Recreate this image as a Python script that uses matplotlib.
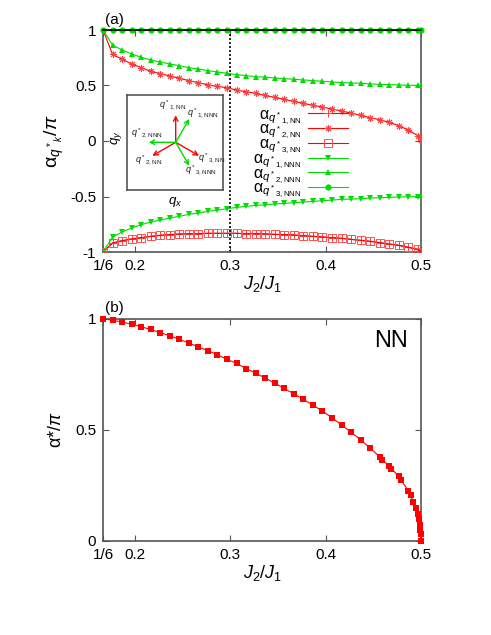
import numpy as np
import matplotlib
matplotlib.use("Agg")
import matplotlib.pyplot as plt

plt.rcParams['font.family'] = ['Liberation Sans', 'DejaVu Sans']
plt.rcParams['mathtext.fontset'] = 'custom'
plt.rcParams['mathtext.rm'] = 'Liberation Sans'
plt.rcParams['mathtext.it'] = 'Liberation Sans:italic'
plt.rcParams['mathtext.bf'] = 'Liberation Sans:bold'

# ---------------- data ----------------
# panel (a): J2/J1 grid (1/6 + 0.01 k, k = 0..33) plus 0.5
j_a = [1/6 + 0.01 * k for k in range(34)] + [0.5]

q2_nn = [1.0, 0.781, 0.736, 0.694, 0.661, 0.628, 0.607, 0.586, 0.565, 0.544,
         0.526, 0.505, 0.492, 0.480, 0.459, 0.444, 0.429, 0.410, 0.393, 0.375,
         0.357, 0.339, 0.321, 0.306, 0.288, 0.270, 0.252, 0.231, 0.210, 0.192,
         0.168, 0.138, 0.099, 0.048, 0.005]
q3_nn = [-1.0, -0.92, -0.898, -0.883, -0.871, -0.859, -0.850, -0.844, -0.838, -0.835,
         -0.835, -0.832, -0.832, -0.832, -0.832, -0.835, -0.835, -0.837, -0.841, -0.844,
         -0.847, -0.853, -0.859, -0.865, -0.871, -0.877, -0.886, -0.895, -0.904, -0.916,
         -0.928, -0.940, -0.958, -0.976, -1.0]
q1_nn = list(q3_nn)
q2_nnn = [1.0, 0.865, 0.820, 0.784, 0.754, 0.730, 0.712, 0.694, 0.679, 0.661,
          0.649, 0.634, 0.622, 0.610, 0.598, 0.589, 0.580, 0.575, 0.568, 0.562,
          0.556, 0.550, 0.544, 0.538, 0.532, 0.526, 0.523, 0.520, 0.514, 0.511,
          0.508, 0.505, 0.502, 0.501, 0.500]
q1_nnn = [-1.0, -0.865, -0.820, -0.784, -0.754, -0.730, -0.712, -0.694, -0.679, -0.661,
          -0.649, -0.634, -0.622, -0.610, -0.598, -0.589, -0.580, -0.575, -0.568, -0.562,
          -0.556, -0.550, -0.544, -0.538, -0.532, -0.526, -0.523, -0.520, -0.514, -0.511,
          -0.508, -0.505, -0.502, -0.501, -0.500]
q3_nnn = [1.0] * 35

# panel (b)
j_b = [1/6 + 0.01 * k for k in range(29)] + [
    0.4567, 0.4590, 0.4667, 0.4690, 0.4767, 0.4790, 0.4867, 0.4890, 0.4920,
    0.4945, 0.4967, 0.4975, 0.4985, 0.4992, 0.4997, 0.5]
alpha_b = [1.0, 0.995, 0.986, 0.977, 0.965, 0.953, 0.938, 0.925, 0.908, 0.892,
           0.874, 0.857, 0.839, 0.818, 0.800, 0.777, 0.756, 0.734, 0.711, 0.687,
           0.663, 0.638, 0.612, 0.585, 0.555, 0.523, 0.490, 0.456, 0.418,
           0.380, 0.365, 0.340, 0.325, 0.293, 0.275, 0.227, 0.205, 0.177,
           0.147, 0.120, 0.098, 0.072, 0.050, 0.030, 0.0]

xticks = [1/6, 0.2, 0.3, 0.4, 0.5]
xticklabels = ['1/6', '0.2', '0.3', '0.4', '0.5']
yticks_a = [-1, -0.5, 0, 0.5, 1]
yticklabels_a = ['-1', '-0.5', '0', '0.5', '1']
yticks_b = [0, 0.5, 1]
yticklabels_b = ['0', '0.5', '1']

# inset arrows: angle (deg), colour, label, label position (box units)
arrow_angles = [90, 210, 330, 60, 180, 300]
arrow_colors = ['red', 'red', 'red', '#00dd00', '#00dd00', '#00dd00']
arrow_labels = [r'$q^*{}_{1,\mathrm{NN}}$', r'$q^*{}_{2,\mathrm{NN}}$', r'$q^*{}_{3,\mathrm{NN}}$',
                r'$q^*{}_{1,\mathrm{NNN}}$', r'$q^*{}_{2,\mathrm{NNN}}$', r'$q^*{}_{3,\mathrm{NNN}}$']
label_pos = [(46, 85), (22, 29.5), (85, 32), (76, 77), (19.5, 56.5), (74, 19.5)]

series_labels = [r'$\mathrm{\alpha}_{q^*{}_{1,\mathrm{NN}}}$',
                 r'$\mathrm{\alpha}_{q^*{}_{2,\mathrm{NN}}}$',
                 r'$\mathrm{\alpha}_{q^*{}_{3,\mathrm{NN}}}$',
                 r'$\mathrm{\alpha}_{q^*{}_{1,\mathrm{NNN}}}$',
                 r'$\mathrm{\alpha}_{q^*{}_{2,\mathrm{NNN}}}$',
                 r'$\mathrm{\alpha}_{q^*{}_{3,\mathrm{NNN}}}$']

RED = '#ff0000'
GREEN = '#00dd00'
SPINE = '#555555'

W, H = 491, 635
fig = plt.figure(figsize=(W / 100, H / 100), dpi=100)

def fx(px):
    return px / W

def fy(py):
    return 1 - py / H

ax_l, ax_r = 103, 421
axa = fig.add_axes([fx(ax_l), fy(252), fx(ax_r - ax_l), (252 - 30) / H])
axb = fig.add_axes([fx(ax_l), fy(541), fx(ax_r - ax_l), (541 - 319) / H])

# ---- panel (a) ----
lw = 0.8
axa.plot(j_a, q1_nn, color=RED, lw=lw, marker='+', ms=5.5, mew=0.7, mec='#ff4040',
         label=series_labels[0], zorder=3)
axa.plot(j_a, q2_nn, color=RED, lw=lw, marker=(8, 2, 0), ms=5, mew=0.7, mec='#ff4040',
         label=series_labels[1], zorder=3)
axa.plot(j_a, q3_nn, color=RED, lw=lw, marker='s', ms=5.5, mew=0.7, mec='#ff5050', mfc='none',
         label=series_labels[2], zorder=3)
axa.plot(j_a, q1_nnn, color=GREEN, lw=lw, marker='v', ms=4.5, mew=0, mfc=GREEN,
         label=series_labels[3], zorder=3)
axa.plot(j_a, q2_nnn, color=GREEN, lw=lw, marker='^', ms=4.5, mew=0, mfc=GREEN,
         label=series_labels[4], zorder=3)
axa.plot(j_a, q3_nnn, color=GREEN, lw=lw, marker='o', ms=4.5, mew=0, mfc=GREEN,
         label=series_labels[5], zorder=3, clip_on=False)
axa.plot([0.3, 0.3], [-1, 1], color='black', lw=1.2, ls=(0, (1.2, 1.2)), zorder=2)

axa.set_xlim(1/6, 0.5)
axa.set_ylim(-1, 1)
axa.set_yticks(yticks_a)
axa.set_yticklabels(yticklabels_a)
axa.set_ylabel(r'$\mathrm{\alpha}_{q^*{}_k}/\pi$', fontsize=14, labelpad=3)

leg = axa.legend(loc='upper right', bbox_to_anchor=((348 - ax_l) / 318, (252 - 107) / 222),
                 frameon=False, markerfirst=False, fontsize=11.5, handlelength=2.5,
                 labelspacing=-0.3, handletextpad=0.4, borderaxespad=0, borderpad=0)
for t in leg.get_texts():
    t.set_ha('right')

# ---- panel (b) ----
axb.plot(j_b, alpha_b, color=RED, lw=lw, marker='s', ms=4, mew=0, mfc=RED, zorder=3, clip_on=False)
axb.set_xlim(1/6, 0.5)
axb.set_ylim(0, 1)
axb.set_yticks(yticks_b)
axb.set_yticklabels(yticklabels_b)
axb.set_ylabel(r'$\mathrm{\alpha}$*/$\pi$', fontsize=13, labelpad=7)
axb.text(0.906, 0.90, 'NN', transform=axb.transAxes, fontsize=17, ha='center', va='center')

for ax in (axa, axb):
    ax.set_xticks(xticks)
    ax.set_xticklabels(xticklabels)
    ax.set_xlabel(r'$J_2/J_1$', fontsize=13, labelpad=1)
    ax.tick_params(direction='in', length=4, width=0.8, color=SPINE, labelsize=11,
                   top=True, right=True, pad=5)
    for s in ax.spines.values():
        s.set_color(SPINE)
        s.set_linewidth(1.2)
axa.spines['top'].set_color('black')
axa.spines['top'].set_zorder(5)

fig.text(fx(114), fy(20), '(a)', fontsize=11, ha='center', va='center')
fig.text(fx(114), fy(308), '(b)', fontsize=11, ha='center', va='center')

# ---- inset diagram ----
ins = fig.add_axes([fx(127), fy(190), 96 / W, 95 / H])
ins.set_xlim(0, 96)
ins.set_ylim(0, 95)
ins.set_xticks([])
ins.set_yticks([])
for s in ins.spines.values():
    s.set_color(SPINE)
    s.set_linewidth(1.2)
cx, cy = 48.7, 47.7
L = 27
for ang, col in zip(arrow_angles, arrow_colors):
    ex = cx + L * np.cos(np.radians(ang))
    ey = cy + L * np.sin(np.radians(ang))
    ins.annotate('', xy=(ex, ey), xytext=(cx, cy),
                 arrowprops=dict(arrowstyle='->', color=col, lw=1.0,
                                 shrinkA=0, shrinkB=0, mutation_scale=8))
for lab, (lx, ly) in zip(arrow_labels, label_pos):
    ins.text(lx, ly, lab, fontsize=6.5, ha='center', va='center', color='#222222')

fig.text(fx(117), fy(138), r'$q_y$', fontsize=9.5, rotation=90, ha='center', va='center')
fig.text(fx(175), fy(202), r'$q_x$', fontsize=9.5, ha='center', va='center')

fig.savefig('out.png', dpi=100)
